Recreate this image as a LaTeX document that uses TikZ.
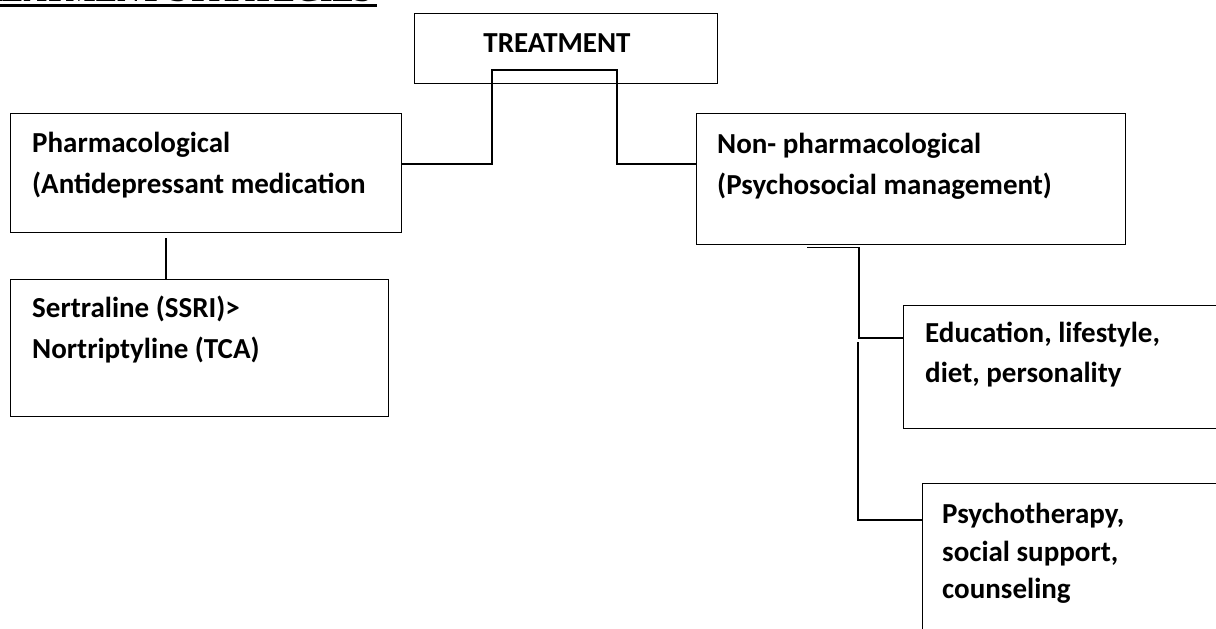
\documentclass[tikz,border=0pt]{standalone}
\usepackage{fontspec}
\setmainfont{Carlito}
\newfontfamily\headfont{Liberation Serif}
\begin{document}
\begin{tikzpicture}[x=1pt,y=-1pt,
  box/.style={draw,line width=1.4pt,rectangle,inner sep=0pt,anchor=north west},
  txt/.style={anchor=base west,inner sep=0pt,font=\bfseries\fontsize{29}{41}\selectfont},
  conn/.style={line width=1.4pt}]
\useasboundingbox (0,0) rectangle (1216,629);
\fill[white] (0,0) rectangle (1216,629);
\begin{scope}
\clip (0,0) rectangle (1216,629);
% heading (cut off at top)
\node[anchor=base east,inner sep=0pt,font=\headfont\bfseries\fontsize{32}{36}\selectfont] (head) at (372,1.5) {TREATMENT STRATEGIES};
\draw[line width=3pt] (0,5.5) -- (377,5.5);
% boxes
\node[box,minimum width=303pt,minimum height=70pt] (treat) at (414,13) {};
\node[box,minimum width=391pt,minimum height=119pt] (pharma) at (10,113) {};
\node[box,minimum width=378pt,minimum height=137pt] (sert) at (10,279) {};
\node[box,minimum width=429pt,minimum height=131pt] (nonph) at (696,113) {};
\node[box,minimum width=340pt,minimum height=123pt] (edu) at (903,305) {};
\node[box,minimum width=340pt,minimum height=180pt] (psy) at (922,483) {};
% texts
\node[anchor=base,inner sep=0pt,font=\bfseries\fontsize{29}{41}\selectfont] (ttreat) at (557,52) {TREATMENT};
\node[txt] (tpharmaA) at (32,152) {Pharmacological};
\node[txt] (tpharmaB) at (32,193) {(Antidepressant medication};
\node[txt] (tsertA) at (32,317) {Sertraline (SSRI)>};
\node[txt] (tsertB) at (32,358) {Nortriptyline (TCA)};
\node[txt] (tnonphA) at (717,153) {Non- pharmacological};
\node[txt] (tnonphB) at (717,194) {(Psychosocial management)};
\node[txt] (teduA) at (925,342) {Education, lifestyle,};
\node[txt] (teduB) at (925,382) {diet, personality};
\node[txt] (tpsyA) at (942,523) {Psychotherapy,};
\node[txt] (tpsyB) at (942,561) {social support,};
\node[txt] (tpsyC) at (942,598) {counseling};
% connectors
\draw[conn] ([yshift=-51pt]pharma.north east) -| (492,70) -| (617,164) -- ([yshift=-51pt]nonph.north west);
\draw[conn] ([xshift=156pt,yshift=-5pt]pharma.south west) -- ([xshift=156pt]sert.north west);
\draw[conn] ([xshift=111pt,yshift=-2pt]nonph.south west) -- ++(52,0) |- ([yshift=-33pt]edu.north west);
\coordinate (j2) at (858,342);
\draw[conn] (j2) |- ([yshift=-37pt]psy.north west);
\end{scope}
\end{tikzpicture}
\end{document}
